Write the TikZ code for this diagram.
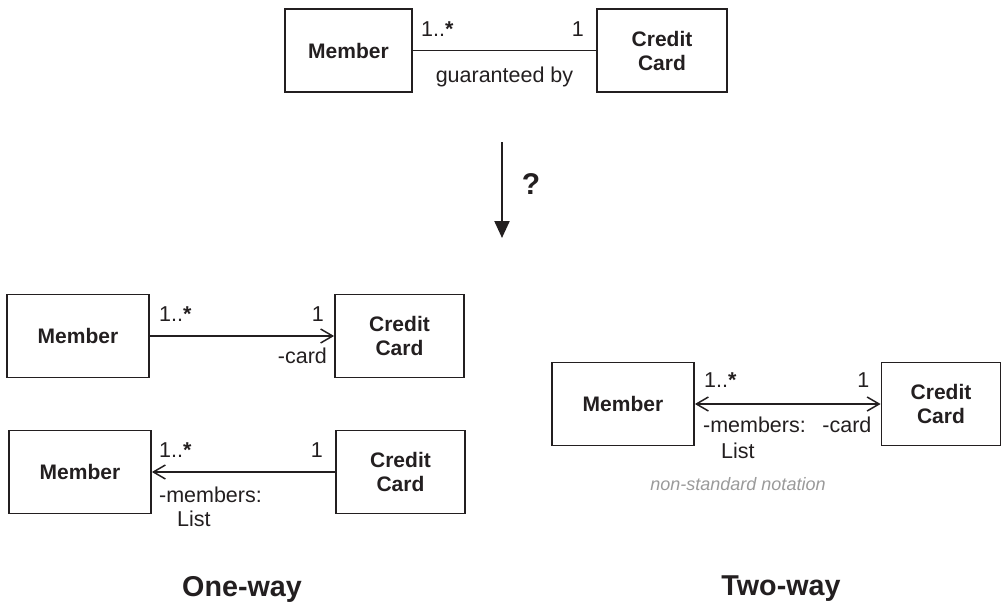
\documentclass[tikz,border=0pt]{standalone}
\usepackage{fontspec}
\setmainfont{Liberation Sans}
\usetikzlibrary{arrows.meta, positioning}
\definecolor{notegray}{HTML}{9a9a9a}
\definecolor{inkblack}{HTML}{231f20}

\begin{document}
\begin{tikzpicture}[x=1pt, y=-1pt, color=inkblack,
    navtip/.tip={Straight Barb[length=12pt, width=14pt, line width=1.5pt]},
    cls/.style={draw, line width=1.8pt, inner sep=0pt, align=center,
        minimum height=83pt, font=\fontsize{21}{24}\selectfont\bfseries},
    lbl/.style={inner sep=0pt, font=\fontsize{21.5}{25}\selectfont},
    assoc/.style={line width=1.5pt},
    caption/.style={font=\fontsize{28.7}{30}\selectfont\bfseries, anchor=base}]
    \useasboundingbox (0,0) rectangle (1002,602);

    \node[cls, minimum width=127pt] (mtop) at (348.5,50.5) {Member};
    \node[cls, minimum width=130pt] (ctop) at (662,50.5) {Credit\\Card};
    \draw[assoc] (mtop) -- (ctop) node[lbl, midway, below=16pt] (guar) {guaranteed by};
    \node[lbl, anchor=base west] (mtopm) at ([xshift=8pt, yshift=14pt]mtop.east) {1..{\bfseries *}};
    \node[lbl, anchor=base east] (ctopm) at ([xshift=-12pt, yshift=14pt]ctop.west) {1};

    \coordinate (qa) at (502,142);
    \coordinate (qb) at (502,238);
    \draw[-{Triangle[length=17pt, width=15pt]}, line width=2.2pt] (qa) -- (qb);
    \node[font=\fontsize{30}{30}\selectfont\bfseries, inner sep=0pt] (quest) at (531,184) {?};

    \node[cls, minimum width=142pt] (ma) at (78,336) {Member};
    \node[cls, minimum width=129pt] (ca) at (399.5,336) {Credit\\Card};
    \draw[assoc, -navtip] (ma) -- (ca);
    \node[lbl, anchor=base west] (mam) at ([xshift=9pt, yshift=15pt]ma.east) {1..{\bfseries *}};
    \node[lbl, anchor=base east] (cam) at ([xshift=-10pt, yshift=15pt]ca.west) {1};
    \node[lbl, anchor=base east] (carda) at ([xshift=-7pt, yshift=-27pt]ca.west) {-card};

    \node[cls, minimum width=142pt] (mb) at (80,472) {Member};
    \node[cls, minimum width=129pt] (cb) at (400.5,472) {Credit\\Card};
    \draw[assoc, -navtip] (cb) -- (mb);
    \node[lbl, anchor=base west] (mbm) at ([xshift=7pt, yshift=15pt]mb.east) {1..{\bfseries *}};
    \node[lbl, anchor=base east] (cbm) at ([xshift=-12pt, yshift=15pt]cb.west) {1};
    \node[lbl, anchor=base west] (membb) at ([xshift=7pt, yshift=-30pt]mb.east) {-members:};
    \node[lbl, anchor=base west] (listb) at ([xshift=18pt, yshift=-24pt]membb.base west) {List};

    \node[cls, minimum width=142pt] (mc) at (623,404) {Member};
    \node[cls, minimum width=119pt] (cc) at (941,404) {Credit\\Card};
    \draw[assoc, navtip-navtip] (mc) -- (cc);
    \node[lbl, anchor=base west] (mcm) at ([xshift=9pt, yshift=17pt]mc.east) {1..{\bfseries *}};
    \node[lbl, anchor=base east] (ccm) at ([xshift=-11pt, yshift=17pt]cc.west) {1};
    \node[lbl, anchor=base west] (membc) at ([xshift=8pt, yshift=-28pt]mc.east) {-members:};
    \node[lbl, anchor=base west] (listc) at ([xshift=18pt, yshift=-26pt]membc.base west) {List};
    \node[lbl, anchor=base east] (cardc) at ([xshift=-9pt, yshift=-28pt]cc.west) {-card};
    \node[font=\fontsize{18}{21}\selectfont\itshape, text=notegray] (note) at (738,484) {non-standard notation};

    \node[caption] (oneway) at (242,596) {One-way};
    \node[caption] (twoway) at (781,595) {Two-way};
\end{tikzpicture}
\end{document}
